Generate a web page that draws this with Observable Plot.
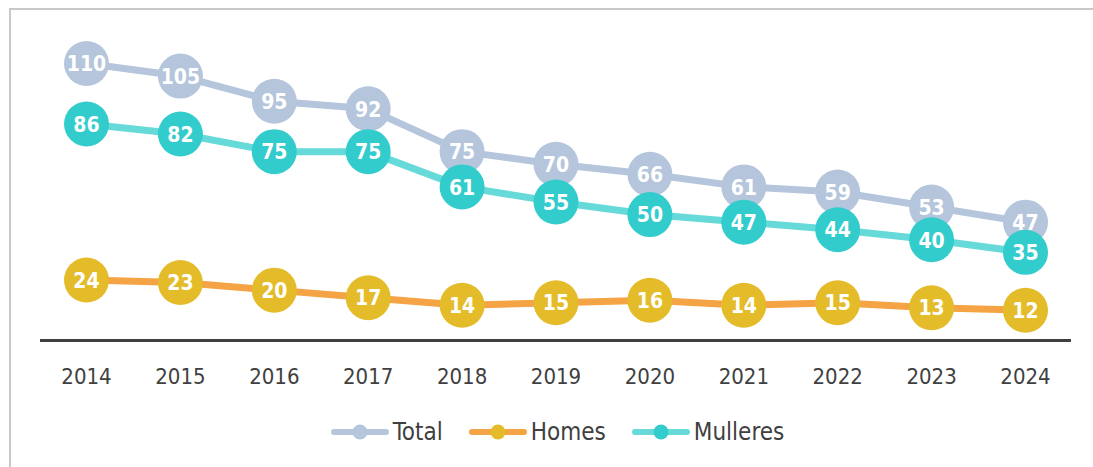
<!DOCTYPE html>
<html>
<head>
<meta charset="utf-8">
<script src="https://cdn.jsdelivr.net/npm/d3@7"></script>
<script src="https://cdn.jsdelivr.net/npm/@observablehq/plot@0.6"></script>
<style>
  html, body { margin: 0; padding: 0; background: #fff; }
  body { width: 1093px; height: 467px; position: relative; overflow: hidden;
         font-family: "Liberation Sans Narrow", "DejaVu Sans Condensed", "Roboto", sans-serif; }
  #frame { position: absolute; left: 9px; top: 8px; width: 1100px; height: 470px;
           border-top: 2px solid #c8c8c8; border-left: 2px solid #c8c8c8; }
  #chart { position: absolute; left: 0; top: 0; }
  #legend { position: absolute; top: 418px; left: 0; width: 1093px; display: flex; justify-content: center;
            padding-left: 48px; box-sizing: border-box; }
  .item { display: flex; align-items: center; margin-right: 26px; font-size: 24px; color: #404040; }
  .item svg { margin-right: 4px; }
</style>
</head>
<body>
<div id="frame"></div>
<div id="chart"></div>
<div id="legend"></div>
<script>
const years = ["2014","2015","2016","2017","2018","2019","2020","2021","2022","2023","2024"];
const total = [110,105,95,92,75,70,66,61,59,53,47];
const homes = [24,23,20,17,14,15,16,14,15,13,12];
const mulleres = [86,82,75,75,61,55,50,47,44,40,35];
const seriesNames = ["Total","Homes","Mulleres"];
const lineColors = {Total:"#b4c5dc", Homes:"#f4a445", Mulleres:"#66d9d9"};
const dotColors = {Total:"#b4c5dc", Homes:"#e4bc2a", Mulleres:"#33cccc"};

const toRows = (name, vals) => years.map((y,i) => ({year:y, value:vals[i], series:name}));
const rowsT = toRows("Total", total);
const rowsH = toRows("Homes", homes);
const rowsM = toRows("Mulleres", mulleres);

const font = '"Liberation Sans Narrow", "DejaVu Sans Condensed", "Roboto", sans-serif';

function seriesMarks(rows, name) {
  return [
    Plot.line(rows, {x:"year", y:"value", stroke:lineColors[name], strokeWidth:7}),
    Plot.dot(rows, {x:"year", y:"value", r:22.5, fill:dotColors[name], stroke:"none"}),
    Plot.text(rows, {x:"year", y:"value", text:d => String(d.value), fill:"#fff",
      fontSize:21, fontWeight:"bold", fontFamily:font, dy:1})
  ];
}

const chart = Plot.plot({
  width: 1093,
  height: 400,
  marginLeft: 40,
  marginRight: 22,
  marginTop: 63,
  marginBottom: 60,
  style: {background:"transparent", fontFamily: font},
  x: {type:"point", domain: years, range:[86, 1025], padding: 0, round: false, label: null},
  y: {domain:[0,110], axis:null},
  marks: [
    Plot.ruleY([0], {stroke:"#404040", strokeWidth:3}),
    Plot.axisX({tickSize:0, tickPadding:28, fontSize:22, color:"#404040", fill:"#404040", label:null}),
    ...seriesMarks(rowsT, "Total"),
    ...seriesMarks(rowsM, "Mulleres"),
    ...seriesMarks(rowsH, "Homes")
  ]
});
document.getElementById("chart").appendChild(chart);

const legend = document.getElementById("legend");
for (const name of seriesNames) {
  const item = document.createElement("div");
  item.className = "item";
  item.innerHTML = `<svg width="58" height="20"><line x1="3" x2="55" y1="10" y2="10" stroke="${lineColors[name]}" stroke-width="6" stroke-linecap="round"/><circle cx="29" cy="10" r="7.5" fill="${dotColors[name]}"/></svg><span>${name}</span>`;
  legend.appendChild(item);
}
</script>
</body>
</html>
